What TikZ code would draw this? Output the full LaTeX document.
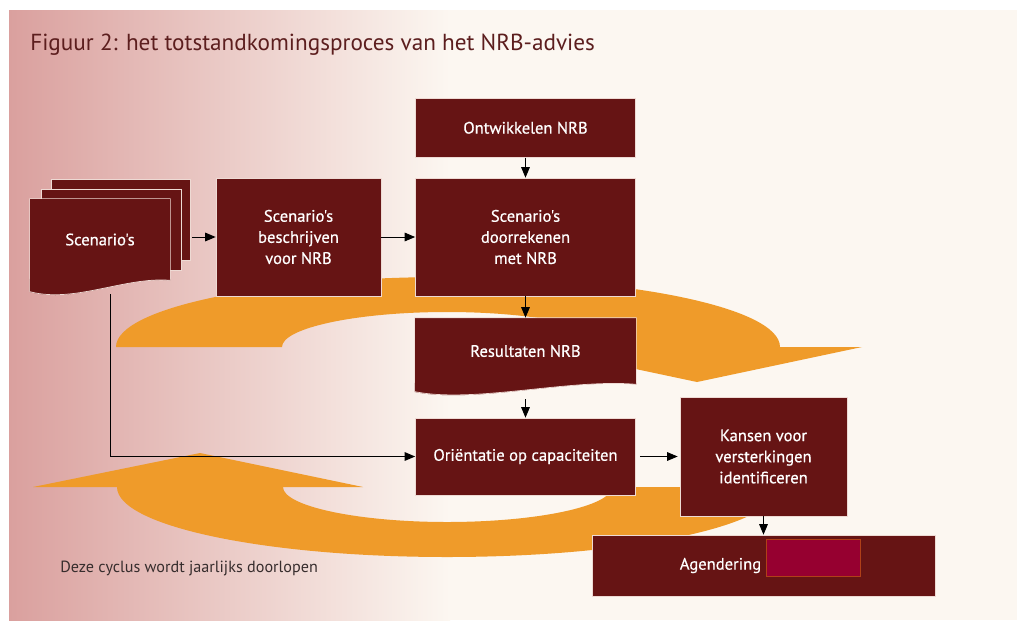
\documentclass[tikz,border=0pt]{standalone}
\usepackage{fontspec}
\setmainfont{PT Sans}
\newfontfamily\boxfont[FakeBold=0.6]{PT Sans}
\usetikzlibrary{shapes}
\usetikzlibrary{arrows}
\usetikzlibrary{positioning}
\definecolor{nrbred}{RGB}{102,20,20}
\definecolor{boxline}{RGB}{238,218,212}
\definecolor{ringorange}{RGB}{239,155,42}
\definecolor{titlered}{RGB}{92,30,30}
\definecolor{pinkbg}{RGB}{218,160,158}
\definecolor{midbg}{RGB}{236,204,200}
\definecolor{creambg}{RGB}{252,247,241}
\definecolor{fieldred}{RGB}{150,0,48}
\definecolor{fieldline}{RGB}{176,64,24}
\definecolor{captiongray}{RGB}{55,45,45}
\tikzstyle{block} = [rectangle, fill=nrbred, draw=boxline, line width=0.5pt,
text=white, align=center, inner sep=0pt, font=\boxfont\fontsize{11.8}{15}\selectfont]
\tikzstyle{docpart} = [block, draw=none]
\tikzstyle{field} = [rectangle, fill=fieldred, draw=fieldline, line width=0.6pt, inner sep=0pt]
\tikzstyle{flow} = [->, line width=0.7pt, draw=black]
\tikzstyle{caption} = [font=\fontsize{11.5}{13}\selectfont, text=captiongray, inner sep=0pt]
\tikzset{>={triangle 45}}
\newcommand{\connect}[3][]{ %
  % Connect all nodes #2 to all nodes #3.
  \foreach \x in {#2} { %
    \foreach \y in {#3} { %
      \draw[flow,#1] (\x) -- (\y) ;%
    } ;
  } ;
}

\begin{document}
\begin{tikzpicture}[x=0.025cm, y=-0.025cm]
				\useasboundingbox (0,0) rectangle (1021,627);
				% background panel
				\fill[white] (0,0) rectangle (1021,627);
				\fill[creambg] (9,10) rectangle (1017,620);
				\shade[left color=pinkbg, middle color=midbg, right color=creambg] (9,10) rectangle (450,620);
				\node[anchor=base west, inner sep=0pt, text=titlered, font=\fontsize{16.5}{19}\selectfont] (title) at (30,50) {Figuur 2: het totstandkomingsproces van het NRB-advies};

				% the yearly cycle
				\fill[ringorange] (116,347) .. controls (116,308) and (265,277) .. (448,277)
				  .. controls (631,277) and (780,308) .. (780,347) -- (862,347) -- (697,382) -- (532,347) -- (612,347)
				  .. controls (612,328) and (538,312) .. (447,312) .. controls (356,312) and (282,328) .. (282,347) -- cycle;
				\fill[ringorange] (33,487) -- (200,453) -- (363,487) -- (283,487)
				  .. controls (283,506) and (357,522) .. (447,522) .. controls (538,522) and (612,506) .. (612,487) -- (778,487)
				  .. controls (778,526) and (630,557) .. (447,557) .. controls (265,557) and (117,526) .. (117,487) -- cycle;
				\node[caption, anchor=base west] (cycle) at (60,572) {Deze cyclus wordt jaarlijks doorlopen};

				% scenario stack
				\node[block, minimum width=3.475cm, minimum height=2.025cm] (scen3) at (120.5,219.5) {};
				\node[block, minimum width=3.5cm, minimum height=2.025cm] (scen2) at (111,229.5) {};
				\node[docpart, minimum width=3.5cm, minimum height=2.025cm] (scen) at (100,239.5) {Scenario's};
				\fill[nrbred] ([yshift=1pt]scen.south east) -- ([yshift=1pt]scen.south west) -- ++(0,13)
				  .. controls +(45,12) and +(-45,-4) .. (scen.south east) -- cycle;
				\draw[boxline, line width=0.5pt] (scen.south east) -- (scen.north east) -- (scen.north west) -- ++(0,93)
				  .. controls +(45,12) and +(-45,-4) .. (scen.south east);

				\node[block, minimum width=4.125cm, minimum height=2.95cm] (beschr) at (298.5,237) {Scenario's\\beschrijven\\voor NRB};
				\node[block, minimum width=5.5cm, minimum height=2.95cm] (doorr) at (525.5,237) {Scenario's\\doorrekenen\\met NRB};
				\node[block, minimum width=5.5cm, minimum height=1.475cm, above=0.5cm of doorr] (ontw) {Ontwikkelen NRB};

				\node[docpart, minimum width=5.525cm, minimum height=1.65cm] (result) at (525.5,351) {Resultaten NRB};
				\fill[nrbred] ([yshift=1pt]result.south east) -- ([yshift=1pt]result.south west) -- ++(0,9)
				  .. controls +(60,12) and +(-66,-6) .. (result.south east) -- cycle;
				\draw[boxline, line width=0.5pt] (result.south east) -- (result.north east) -- (result.north west) -- ++(0,74)
				  .. controls +(60,12) and +(-66,-6) .. (result.south east);

				\node[block, minimum width=5.5cm, minimum height=1.925cm] (orient) at (525.5,456.5) {Oriëntatie op capaciteiten};
				\node[block, minimum width=4.175cm, minimum height=2.975cm] (kansen) at (763.5,456.5) {Kansen voor\\versterkingen\\identificeren};
				\node[block, minimum width=8.575cm, minimum height=1.525cm] (agend) at (763.5,565.5) {Agendering\hspace{2.15cm}};
				\node[field, minimum width=2.35cm, minimum height=0.925cm] (agendfield) at (813,557.5) {};

				\coordinate (scenout) at (110,294);
				\draw[flow, shorten <=0.05cm] (scen3.east |- beschr.west) -- (beschr.west);
				\connect {beschr} {doorr};
				\connect {ontw} {doorr};
				\connect {doorr} {result};
				\connect[shorten <=0.375cm] {result} {orient};
				\draw[flow] (scenout) |- (orient.west);
				\connect[shorten <=0.1cm, shorten >=0.05cm] {orient} {kansen};
				\connect {kansen} {agend};
\end{tikzpicture}
\end{document}
